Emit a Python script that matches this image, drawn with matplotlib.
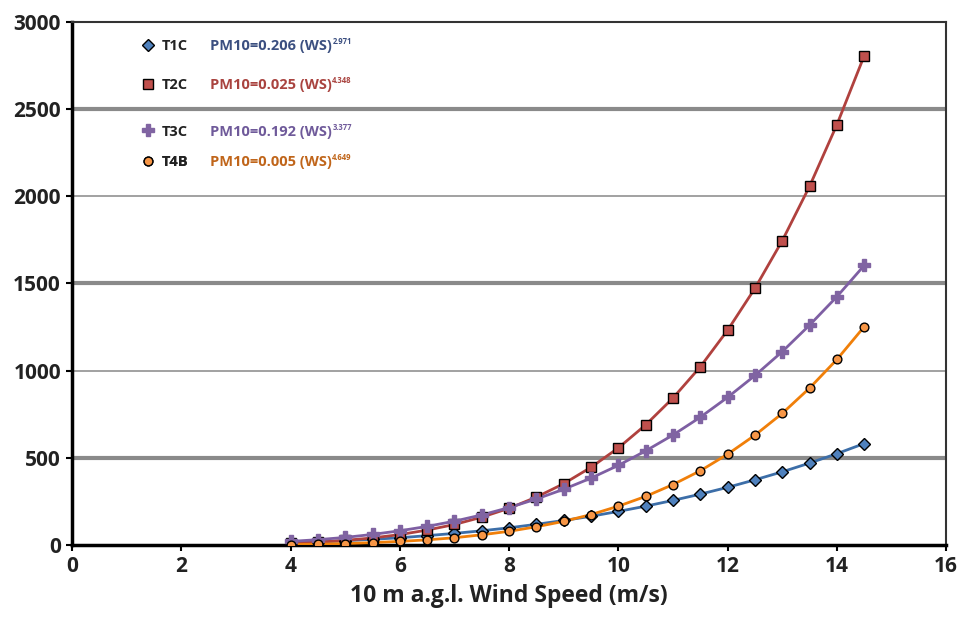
import matplotlib
matplotlib.use("Agg")
import matplotlib.pyplot as plt
from matplotlib.lines import Line2D

plt.rcParams["font.family"] = ["Open Sans", "DejaVu Sans"]

wind = [4, 4.5, 5, 5.5, 6, 6.5, 7, 7.5, 8, 8.5, 9, 9.5, 10, 10.5,
        11, 11.5, 12, 12.5, 13, 13.5, 14, 14.5]
t1c = [13, 18, 25, 33, 42, 54, 67, 82, 99, 119, 141, 165, 193, 223,
       256, 292, 331, 374, 420, 470, 524, 582]
t2c = [10, 17, 27, 41, 60, 86, 118, 160, 211, 275, 352, 446, 557, 689,
       843, 1022, 1232, 1472, 1745, 2057, 2410, 2805]
t3c = [21, 31, 44, 61, 82, 107, 137, 173, 215, 264, 320, 384, 457, 540,
       631, 733, 847, 972, 1109, 1261, 1424, 1603]
t4b = [3, 5, 9, 14, 21, 30, 42, 59, 79, 105, 136, 175, 223, 279,
       347, 426, 521, 630, 755, 900, 1064, 1252]

names = ["T1C", "T2C", "T3C", "T4B"]
formulas = ["PM10=0.206 (WS)", "PM10=0.025 (WS)",
            "PM10=0.192 (WS)", "PM10=0.005 (WS)"]
exponents = ["2.971", "4.348", "3.377", "4.649"]

fig = plt.figure(figsize=(9.67, 6.18), dpi=100)
ax = fig.add_axes([0.0745, 0.118, 0.904, 0.847])

styles = [
    # line colour, face colour, marker, marker size, text colour
    ("#3c6ea8", "#4f81bd", "D", 5.8, "#3b4f80"),
    ("#b0413e", "#c0504d", "s", 6.6, "#a9433f"),
    ("#7e5fa3", "#8064a2", "P", 8.8, "#6f5a9a"),
    ("#f07f09", "#f79646", "o", 6.3, "#c0651a"),
]
series = [t1c, t2c, t3c, t4b]

handles = []
for vals, (lc, fc, mk, ms, tc) in zip(series, styles):
    ec = "black" if mk != "P" else fc
    ax.plot(wind, vals, color=lc, lw=2, zorder=3)
    ax.plot(wind, vals, ls="none", marker=mk, ms=ms, mfc=fc,
            mec=ec, mew=1, zorder=4)
    handles.append(Line2D([], [], ls="none", marker=mk, ms=ms, mfc=fc,
                          mec=ec, mew=1))

ax.set_xlim(0, 16)
ax.set_ylim(0, 3000)
ax.set_xticks(range(0, 17, 2))
ax.set_yticks(range(0, 3001, 500))
ax.tick_params(axis="both", direction="out", length=4, width=1.5,
               labelsize=15, pad=4)
for lab in ax.get_xticklabels() + ax.get_yticklabels():
    lab.set_fontweight("bold")
    lab.set_color("#222222")

for y in [500, 1500, 2500]:
    ax.axhline(y, color="#8a8a8a", lw=3, zorder=1)
for y in [1000, 2000]:
    ax.axhline(y, color="#9a9a9a", lw=1.3, zorder=1)

ax.spines["left"].set_linewidth(2.5)
ax.spines["bottom"].set_linewidth(2.5)
ax.spines["top"].set_linewidth(1.5)
ax.spines["right"].set_linewidth(1.5)
ax.spines["top"].set_color("#333333")
ax.spines["right"].set_color("#333333")

ax.set_xlabel("10 m a.g.l. Wind Speed (m/s)", fontsize=16.5,
              fontweight="bold", color="#222222", labelpad=5)

rows = [0.954, 0.878, 0.790, 0.731]
for h, name, form, ex, y, st in zip(handles, names, formulas, exponents,
                                    rows, styles):
    leg = ax.legend([h], [name], loc="center left", bbox_to_anchor=(0.078, y),
                    frameon=False, handlelength=1.0, handletextpad=0.45,
                    borderpad=0, borderaxespad=0,
                    prop={"size": 10.5, "weight": "bold"})
    leg.get_texts()[0].set_color("#222222")
    ax.add_artist(leg)
    base = ax.text(0.1575, y, form, transform=ax.transAxes, fontsize=10.5,
                   fontweight="bold", color=st[4], va="center", ha="left")
    ax.annotate(ex, xy=(1, 0.5), xycoords=base, xytext=(0.5, 0),
                textcoords="offset points", fontsize=5.5, fontweight="bold",
                color=st[4], va="bottom", ha="left")

fig.savefig("out.png", dpi=100)
